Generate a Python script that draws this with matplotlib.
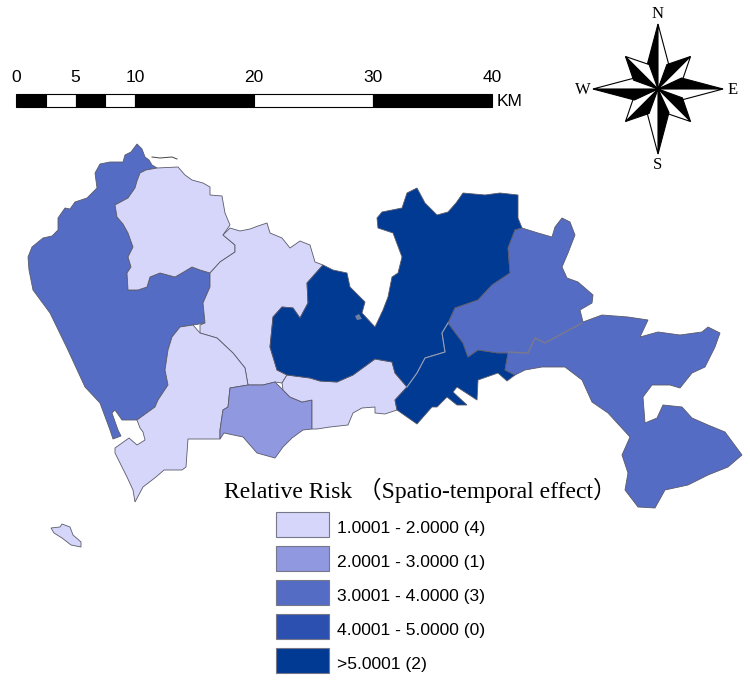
import numpy as np
import matplotlib
matplotlib.use('Agg')
import matplotlib.pyplot as plt
from matplotlib.patches import Polygon, Rectangle

# district outlines (image pixels)
baoan = [(137,144),(142,149),(145,157),(149,160),(152,165),(157,168),(146,170),(140,173),(137,181),(135,188),(128,198),(115,205),(117,217),
         (123,224),(128,233),(133,247),(128,257),(131,267),(127,273),(128,290),(138,290),(147,287),(150,277),(160,273),
         (175,277),(182,273),(192,267),(200,270),(210,273),(210,287),(203,303),(205,323),(193,325),(180,327),(172,337),
         (168,350),(165,370),(168,385),(158,400),(155,407),(137,420),(122,420),(115,410),(112,413),(118,430),
         (121,436),(113,439),(110,430),(100,403),(85,387),(67,348),(50,313),(33,290),(29,270),(28,257),(32,247),
         (43,238),(52,236),(58,230),(58,218),(65,208),(70,209),(75,202),(87,198),(97,188),(95,173),(100,164),(110,162),(123,162),(125,155),(131,152)]
guangming = [(157,168),(178,167),(185,175),(192,180),(203,183),(210,187),(210,195),(222,196),(225,213),(230,225),(223,235),(235,245),
             (235,252),(220,262),(210,273),(200,270),(192,267),(182,273),(175,277),(160,273),(150,277),(147,287),(138,290),
             (128,290),(127,273),(131,267),(128,257),(133,247),(128,233),(123,224),(117,217),(115,205),(128,198),(135,188),(137,181),(140,173),(146,170)]
longhua = [(223,235),(230,228),(240,231),(250,229),(258,226),(267,223),(270,233),(282,238),(290,248),(300,241),(310,245),(315,262),
           (323,265),(307,283),(308,303),(300,318),(293,308),(282,307),(273,317),(270,347),(277,370),(287,375),
           (282,383),(275,382),(263,385),(248,385),(245,368),(233,353),(217,338),(200,333),(200,325),(205,323),
           (203,303),(210,287),(210,273),(220,262),(235,252),(235,245)]
nanshan = [(180,327),(193,325),(200,333),(217,338),(233,353),(245,368),(248,385),(230,388),(228,407),(223,410),
           (220,430),(220,439),(188,439),(186,467),(182,470),(164,470),(156,477),(143,487),(135,502),(133,490),
           (127,477),(115,453),(115,448),(129,438),(137,445),(145,440),(143,432),(140,428),(137,420),(155,407),
           (158,400),(168,385),(165,370),(168,350),(172,337)]
futian = [(230,388),(248,385),(263,385),(275,382),(283,390),(290,397),(302,402),(312,400),(312,429),(303,430),
          (292,438),(283,447),(275,458),(257,453),(243,437),(224,433),(220,439),(220,430),(223,410),(228,407)]
luohu = [(287,375),(310,378),(320,381),(337,382),(353,375),(375,359),(392,362),(395,373),(407,387),(395,400),
         (397,410),(385,414),(375,413),(375,407),(362,408),(353,413),(348,425),(330,427),(317,429),(312,429),
         (312,400),(302,402),(290,397),(283,390),(282,383)]
longgang_w = [(323,265),(333,270),(347,273),(350,287),(365,302),(362,313),(375,327),(383,310),(388,297),(392,277),(398,273),
              (402,257),(393,233),(378,228),(377,218),(382,212),(402,208),(407,193),(417,188),(425,203),(437,215),
              (448,212),(456,203),(463,193),(485,195),(500,193),(518,195),(518,218),(522,228),(515,230),(508,248),(510,273),
              (492,285),(478,300),(455,308),(448,323),(442,333),(445,352),(425,358),(417,373),(407,387),(395,373),
              (392,362),(375,359),(353,375),(337,382),(320,381),(310,378),(287,375),(277,370),(270,347),(273,317),
              (282,307),(293,308),(300,318),(308,303),(307,283)]
yantian = [(448,323),(442,333),(445,352),(425,358),(417,373),(407,387),(395,400),(397,410),(417,424),(432,407),
           (437,407),(447,397),(457,405),(467,405),(453,392),(457,387),(477,400),(478,380),(498,373),(507,381),
           (515,375),(505,370),(508,353),(498,353),(478,350),(468,357),(463,343)]
east = [(448,323),(455,308),(478,300),(492,285),(510,273),(508,248),(515,230),(522,228),(538,233),(552,237),
        (555,227),(562,218),(570,222),(575,235),(568,253),(562,267),(567,278),(578,282),(593,295),(592,303),(580,310),
        (583,322),(602,315),(628,317),(648,320),(640,337),(658,332),(680,335),(702,332),(708,327),(720,333),(715,347),(705,367),
        (692,373),(680,388),(670,385),(652,385),(643,397),(645,423),(657,418),(663,405),(682,407),(692,418),(708,425),(725,432),
        (742,455),(728,467),(708,475),(688,485),(665,490),(655,508),(638,507),(625,490),(628,473),(622,455),(630,437),
        (608,413),(592,402),(582,380),(565,367),(542,367),(525,370),(515,375),(505,370),(508,353),(498,353),
        (478,350),(468,357),(463,343)]
island = [(51,528),(60,527),(62,524),(70,527),(73,535),(81,542),(81,547),(71,545),(62,538),(54,533)]
coast_line = [(152,157),(160,158),(172,157),(177,159)]
river_line = [(508,352),(528,353),(535,338),(545,343),(582,323)]
inner_line = [(448,323),(442,333),(445,352),(425,358),(417,373),(407,387)]
reservoir = [(355,316),(359,314),(362,319),(357,320)]

districts = [baoan, guangming, longhua, nanshan, futian, luohu, longgang_w, yantian, east, island]
district_class = [2, 0, 0, 0, 1, 0, 4, 4, 2, 0]

class_colors = ['#D5D6FA', '#9098E0', '#556CC5', '#2B50B0', '#003A93']
class_labels = ['1.0001 - 2.0000 (4)', '2.0001 - 3.0000 (1)', '3.0001 - 4.0000 (3)',
                '4.0001 - 5.0000 (0)', '>5.0001 (2)']

scale_breaks = [0, 2.5, 5, 7.5, 10, 20, 30, 40]
scale_ticks = [0, 5, 10, 20, 30, 40]
compass_dirs = ['N', 'E', 'S', 'W']

fig = plt.figure(figsize=(7.5, 6.83), dpi=100)
ax = fig.add_axes([0, 0, 1, 1])
ax.set_xlim(0, 750)
ax.set_ylim(683, 0)
ax.axis('off')

# map
for outline, c in zip(districts, district_class):
    ax.add_patch(Polygon(outline, closed=True, facecolor=class_colors[c], edgecolor='#5a5a6a', linewidth=0.6))
ax.add_patch(Polygon(reservoir, closed=True, facecolor='#6f7f9f', edgecolor='none'))
ax.plot(*zip(*coast_line), color='#444444', lw=0.7)
ax.plot(*zip(*river_line), color='#7a7a8a', lw=1.0)
ax.plot(*zip(*inner_line), color='#8fa0c0', lw=0.8)

# scale bar
x0 = 16
km = 11.9
for i in range(len(scale_breaks) - 1):
    col = 'black' if i % 2 == 0 else 'white'
    ax.add_patch(Rectangle((x0 + scale_breaks[i] * km, 94), (scale_breaks[i + 1] - scale_breaks[i]) * km, 13,
                           facecolor=col, edgecolor='black', linewidth=0.8))
for t in scale_ticks:
    ax.text(x0 + t * km, 78, str(t), ha='center', va='center', fontsize=12.5, family='Liberation Sans')
ax.text(497, 101, 'KM', ha='left', va='center', fontsize=12.5, family='Liberation Sans')

# north arrow
cx, cy = 658, 89
for k in range(8):
    ang = np.deg2rad(k * 45)
    r = 65 if k % 2 == 0 else 46
    for side, col in [(-1, 'black'), (1, 'white')]:
        sh = ang + side * np.deg2rad(25)
        pts = [(cx, cy), (cx + r * np.sin(ang), cy - r * np.cos(ang)), (cx + 26 * np.sin(sh), cy - 26 * np.cos(sh))]
        ax.add_patch(Polygon(pts, closed=True, facecolor=col, edgecolor='black', linewidth=0.8))
ax.text(658, 14, compass_dirs[0], ha='center', va='center', fontsize=12, family='Liberation Serif')
ax.text(733, 90, compass_dirs[1], ha='center', va='center', fontsize=12, family='Liberation Serif')
ax.text(658, 165, compass_dirs[2], ha='center', va='center', fontsize=12, family='Liberation Serif')
ax.text(583, 90, compass_dirs[3], ha='center', va='center', fontsize=12, family='Liberation Serif')

# legend
ax.text(224, 490, 'Relative Risk \uff08Spatio-temporal effect\uff09', ha='left', va='center', fontsize=17,
        family=['Liberation Serif', 'Noto Sans CJK SC'])
for i, (c, lab) in enumerate(zip(class_colors, class_labels)):
    y = 512 + i * 34
    ax.add_patch(Rectangle((276, y), 53, 25, facecolor=c, edgecolor='#77778a', linewidth=0.8))
    ax.text(337, y + 17, lab, ha='left', va='center', fontsize=12.6, family='Liberation Sans')

fig.savefig('out.png', dpi=100)
